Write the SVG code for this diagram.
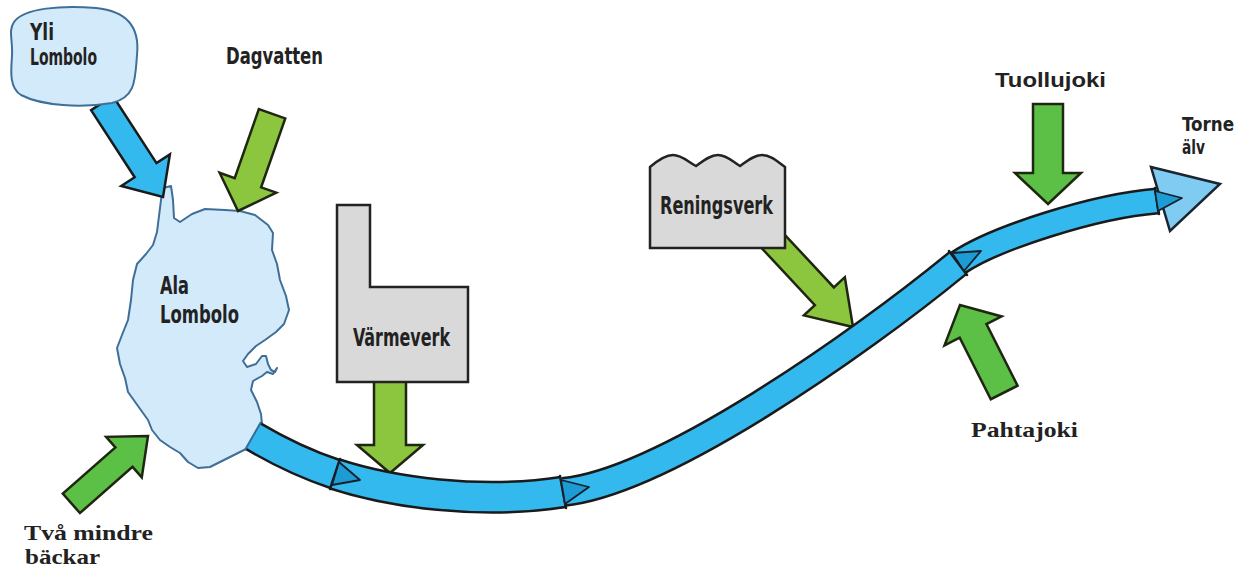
<svg xmlns="http://www.w3.org/2000/svg" width="1253" height="570" viewBox="0 0 1253 570">
  <style>
    .lake { fill: #d3eafa; stroke: #3f6f98; stroke-width: 2; stroke-linejoin: round; }
    .plant { fill: #d9d9d9; stroke: #222; stroke-width: 2.5; stroke-linejoin: miter; }
    .flow-blue { fill: #33b9ee; stroke: #1a1a1a; stroke-width: 2.5; stroke-linejoin: miter; }
    .flow-lime { fill: #8cc63f; stroke: #1f2612; stroke-width: 2.5; stroke-linejoin: miter; }
    .flow-green { fill: #5cbf46; stroke: #1f2612; stroke-width: 2.5; stroke-linejoin: miter; }
    .river-edge { fill: none; stroke: #1a1a1a; stroke-linecap: butt; }
    .river-body { fill: none; stroke: #33b9ee; stroke-linecap: butt; }
    .divider { stroke: #1a1a1a; stroke-width: 2.5; stroke-linecap: round; }
    .dir { fill: #1d9bd5; stroke: #15202a; stroke-width: 1.8; stroke-linejoin: round; }
    .head { fill: #80cbf1; stroke: #1a2530; stroke-width: 2.5; stroke-linejoin: miter; }
    .cond { font-family: "Liberation Sans Narrow", "DejaVu Sans Condensed", "Liberation Sans", sans-serif; font-weight: bold; fill: #222; }
    .sans { font-family: "Liberation Sans", Arial, sans-serif; font-weight: bold; fill: #222; }
    .serif { font-family: "Liberation Serif", "Times New Roman", serif; font-weight: bold; fill: #222; }
  </style>

  <!-- Ala Lombolo lake -->
  <g id="ala-lombolo">
    <path class="lake" d="M163,188 L171,186 L173,200 L174,218 L180,222 L192,214 L205,209 L225,210 L240,211 L255,215 L268,225 L273,233 L272,250 L277,264 L280,280 L286,296 L289,310 L284,324 L276,332 L265,340 L256,346 L248,354 L243,361 L247,367 L256,364 L262,356 L266,356 L268,364 L271,370 L275,372 L277,368 L273,374 L267,372 L262,376 L253,381 L251,390 L257,402 L261,414 L262,424 L260,436 L254,444 L246,449 L236,454 L224,460 L210,467 L198,468 L188,462 L180,453 L170,447 L160,440 L152,430 L148,420 L138,406 L128,392 L125,378 L120,364 L117,348 L122,335 L128,320 L131,300 L133,280 L137,264 L146,254 L153,245 L157,232 L159,216 L161,200 Z"/>
    <text class="cond" x="160" y="294" font-size="24" textLength="29" lengthAdjust="spacingAndGlyphs">Ala</text>
    <text class="cond" x="160" y="323" font-size="24" textLength="79" lengthAdjust="spacingAndGlyphs">Lombolo</text>
  </g>

  <!-- inflow arrows -->
  <g id="inflows">
    <path id="arrow-yli" class="flow-blue" transform="translate(163,197) rotate(57)" d="M0,0 L-32,-29 L-32,-13 L-112,-13 L-112,13 L-32,13 L-32,29 Z"/>
    <path id="arrow-dagvatten" class="flow-lime" transform="translate(238,211) rotate(109.3)" d="M0,0 L-30,-30 L-30,-14 L-103,-14 L-103,14 L-30,14 L-30,30 Z"/>
    <path id="arrow-varmeverk" class="flow-lime" transform="translate(390,473) rotate(90)" d="M0,0 L-28,-33 L-28,-16 L-95,-16 L-95,16 L-28,16 L-28,33 Z"/>
    <path id="arrow-reningsverk" class="flow-lime" transform="translate(853,327) rotate(47)" d="M0,0 L-42,-28 L-42,-13 L-122,-13 L-122,13 L-42,13 L-42,28 Z"/>
    <path id="arrow-tuollujoki" class="flow-green" transform="translate(1048,204) rotate(90)" d="M0,0 L-31,-33 L-31,-15 L-100,-15 L-100,15 L-31,15 L-31,33 Z"/>
    <path id="arrow-pahtajoki" class="flow-green" transform="translate(960,305) rotate(-116.8)" d="M0,0 L-29,-32 L-29,-15 L-98,-15 L-98,15 L-29,15 L-29,32 Z"/>
    <path id="arrow-backar" class="flow-green" transform="translate(148,436) rotate(-41.3)" d="M0,0 L-32,-27 L-32,-13 L-102,-13 L-102,13 L-32,13 L-32,27 Z"/>
  </g>

  <!-- Yli Lombolo lake -->
  <g id="yli-lombolo">
    <path class="lake" d="M14,22 C24,8 62,5 96,8 C126,11 140,26 137,55 C135,80 136,97 112,103 C82,108 42,106 21,95 C9,88 11,70 12,56 C13,40 8,31 14,22 Z"/>
    <text class="cond" x="30" y="40" font-size="23" textLength="24" lengthAdjust="spacingAndGlyphs">Yli</text>
    <text class="cond" x="30" y="65" font-size="23" textLength="67" lengthAdjust="spacingAndGlyphs">Lombolo</text>
  </g>

  <!-- Värmeverk plant -->
  <g id="varmeverk">
    <path class="plant" d="M337,205 L370,205 L370,287 L468,287 L468,382 L337,382 Z"/>
    <text class="cond" x="353" y="346" font-size="24" textLength="97" lengthAdjust="spacingAndGlyphs">Värmeverk</text>
  </g>

  <!-- Reningsverk plant -->
  <g id="reningsverk">
    <path class="plant" d="M650,167 C657,161 665,155 673,155 C682,155 688,162 696,166 C703,161 710,155 718,155 C727,155 733,162 740,166 C747,161 754,155 762,155 C771,155 778,162 785,167 L785,248 L650,248 Z"/>
    <text class="cond" x="660" y="214" font-size="24" textLength="113" lengthAdjust="spacingAndGlyphs">Reningsverk</text>
  </g>

  <!-- river to Torne älv -->
  <g id="river">
    <polygon class="head" points="1151,167 1220,184 1170,231"/>
    <path class="river-edge" stroke-width="32" d="M253,436 C280,452 308,465 335,474"/>
    <path class="river-body" stroke-width="27" d="M253,436 C280,452 308,465 335,474"/>
    <path class="river-edge" stroke-width="33" d="M335,474 C390,492 480,505 563,492"/>
    <path class="river-body" stroke-width="28" d="M335,474 C390,492 480,505 563,492"/>
    <path class="river-edge" stroke-width="30" d="M563,492 C663,482 858,345 958,263"/>
    <path class="river-body" stroke-width="25" d="M563,492 C663,482 858,345 958,263"/>
    <path class="river-edge" stroke-width="27" d="M958,263 C995,238 1095,206 1157,201"/>
    <path class="river-body" stroke-width="22" d="M958,263 C995,238 1095,206 1157,201"/>
    <line x1="261" y1="422" x2="245" y2="450" stroke="#2f6f9a" stroke-width="2"/>
    <line class="divider" x1="340" y1="459" x2="330" y2="489"/>
    <line class="divider" x1="560" y1="476" x2="566" y2="508"/>
    <line class="divider" x1="949" y1="251" x2="967" y2="275"/>
    <line class="divider" x1="1155" y1="188" x2="1159" y2="214"/>
    <polygon class="dir" points="339,462 332,485 360,480"/>
    <polygon class="dir" points="561,480 565,504 589,487"/>
    <polygon class="dir" points="952,253 964,271 981,251"/>
    <polygon class="dir" points="1155,191 1158,211 1182,198"/>
  </g>

  <!-- labels -->
  <g id="labels">
    <text class="cond" x="226" y="64" font-size="23" textLength="97" lengthAdjust="spacingAndGlyphs">Dagvatten</text>
    <text class="sans" x="995" y="87" font-size="21" textLength="111" lengthAdjust="spacingAndGlyphs">Tuollujoki</text>
    <text class="cond" x="1182" y="131" font-size="20" textLength="52" lengthAdjust="spacingAndGlyphs">Torne</text>
    <text class="cond" x="1182" y="154" font-size="20" textLength="23" lengthAdjust="spacingAndGlyphs">älv</text>
    <text class="serif" x="971" y="437" font-size="21" textLength="107" lengthAdjust="spacingAndGlyphs">Pahtajoki</text>
    <text class="serif" x="24" y="540" font-size="22" textLength="129" lengthAdjust="spacingAndGlyphs">Två mindre</text>
    <text class="serif" x="25" y="564" font-size="22" textLength="75" lengthAdjust="spacingAndGlyphs">bäckar</text>
  </g>
</svg>
